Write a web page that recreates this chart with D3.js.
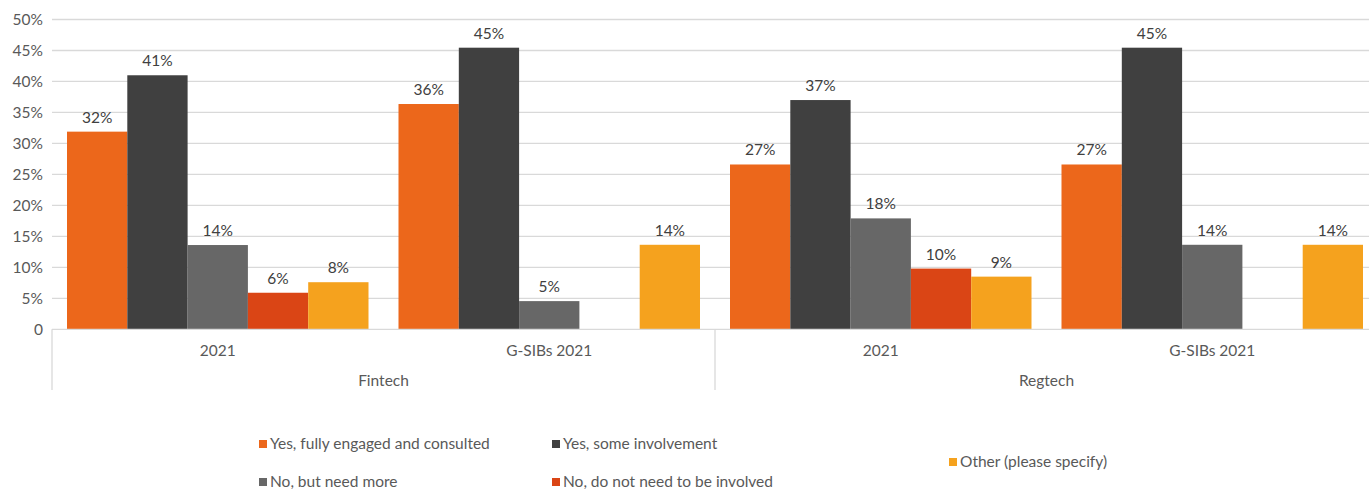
<!DOCTYPE html>
<html>
<head>
<meta charset="utf-8">
<script src="https://cdn.jsdelivr.net/npm/d3@7"></script>
<style>
  html, body { margin: 0; padding: 0; background: #fff; }
  svg { display: block; font-family: Lato, "Open Sans", sans-serif; }
</style>
</head>
<body>
<svg id="chart" width="1369" height="490"></svg>
<script>
// Survey groups (sector / cohort)
const sectors = ["Fintech", "Regtech"];
const cohorts = ["2021", "G-SIBs 2021"];
const groups = [
  { sector: "Fintech", cohort: "2021" },
  { sector: "Fintech", cohort: "G-SIBs 2021" },
  { sector: "Regtech", cohort: "2021" },
  { sector: "Regtech", cohort: "G-SIBs 2021" }
];

// Responses (series)
const seriesNames = [
  "Yes, fully engaged and consulted",
  "Yes, some involvement",
  "No, but need more",
  "No, do not need to be involved",
  "Other (please specify)"
];
const seriesColors = ["#EC671B", "#404040", "#676767", "#DA4515", "#F5A21E"];

// Share of respondents per group, one array per response (null = no bar)
const fullyEngaged    = [0.319, 0.3636, 0.266, 0.266];
const someInvolvement = [0.410, 0.4545, 0.370, 0.4545];
const needMore        = [0.136, 0.0455, 0.179, 0.1364];
const notNeeded       = [0.059, null, 0.098, null];
const other           = [0.076, 0.1364, 0.085, 0.1364];
const seriesValues = [fullyEngaged, someInvolvement, needMore, notNeeded, other];

const yTicks = [0, 0.05, 0.10, 0.15, 0.20, 0.25, 0.30, 0.35, 0.40, 0.45, 0.50];

const svg = d3.select("#chart");
const plotLeft = 52, plotRight = 1378, plotTop = 19.5, plotBottom = 329.3;
const textColor = "#595959";
const lineColor = "#D9D9D9";

const x0 = d3.scaleBand().domain(d3.range(groups.length)).range([plotLeft, plotRight]);
// five bars per group, 15px clear on either side
const x1 = d3.scaleBand().domain(d3.range(seriesNames.length))
  .range([15, x0.bandwidth() - 15]).padding(0);
const y = d3.scaleLinear().domain([0, 0.5]).range([plotBottom, plotTop]);

// gridlines
svg.append("g").selectAll("line").data(yTicks.slice(1)).join("line")
  .attr("x1", plotLeft).attr("x2", plotRight)
  .attr("y1", d => y(d)).attr("y2", d => y(d))
  .attr("stroke", lineColor).attr("stroke-width", 1.3);

// y tick labels
svg.append("g").selectAll("text").data(yTicks).join("text")
  .attr("x", 43).attr("y", d => y(d)).attr("dy", "0.35em")
  .attr("text-anchor", "end").attr("fill", textColor)
  .attr("font-size", 15.5)
  .text(d => d === 0 ? "0" : d3.format(".0%")(d));

// bars with value labels
const fmt = d3.format(".0%");
seriesNames.forEach((name, si) => {
  const g = svg.append("g");
  const data = groups.map((grp, gi) => ({ gi, v: seriesValues[si][gi] }))
    .filter(d => d.v !== null);
  g.selectAll("rect").data(data).join("rect")
    .attr("x", d => x0(d.gi) + x1(si))
    .attr("width", x1.bandwidth())
    .attr("y", d => y(d.v))
    .attr("height", d => y(0) - y(d.v))
    .attr("fill", seriesColors[si]);
  g.selectAll("text").data(data).join("text")
    .attr("x", d => x0(d.gi) + x1(si) + x1.bandwidth() / 2)
    .attr("y", d => y(d.v) - 9)
    .attr("text-anchor", "middle").attr("fill", "#404040")
    .attr("font-size", 15.5)
    .text(d => fmt(d.v));
});

// category axis
const axis = svg.append("g").attr("stroke", lineColor).attr("stroke-width", 1.3);
axis.append("line").attr("x1", plotLeft).attr("x2", plotRight).attr("y1", plotBottom).attr("y2", plotBottom);
const sectorScale = d3.scaleBand().domain(sectors).range([plotLeft, plotRight]);
[plotLeft, ...sectors.map(s => sectorScale(s) + sectorScale.bandwidth())].forEach(xv => {
  axis.append("line").attr("x1", xv).attr("x2", xv).attr("y1", plotBottom).attr("y2", 390);
});

svg.append("g").selectAll("text").data(groups).join("text")
  .attr("x", (d, i) => x0(i) + x0.bandwidth() / 2).attr("y", 351).attr("dy", "0.35em")
  .attr("text-anchor", "middle").attr("fill", textColor).attr("font-size", 15.5)
  .text(d => d.cohort);

svg.append("g").selectAll("text").data(sectors).join("text")
  .attr("x", d => sectorScale(d) + sectorScale.bandwidth() / 2).attr("y", 381).attr("dy", "0.35em")
  .attr("text-anchor", "middle").attr("fill", textColor).attr("font-size", 15.5)
  .text(d => d);

// legend
const legendPos = [[259, 444], [552, 444], [259, 482], [552, 482], [949, 462]];
const legend = svg.append("g").selectAll("g").data(seriesNames).join("g")
  .attr("transform", (d, i) => `translate(${legendPos[i][0]},${legendPos[i][1]})`);
legend.append("rect").attr("x", 0).attr("y", -4).attr("width", 8).attr("height", 8)
  .attr("fill", (d, i) => seriesColors[i]);
legend.append("text").attr("x", 11).attr("dy", "0.35em")
  .attr("fill", textColor).attr("font-size", 15.5).text(d => d);
</script>
</body>
</html>
